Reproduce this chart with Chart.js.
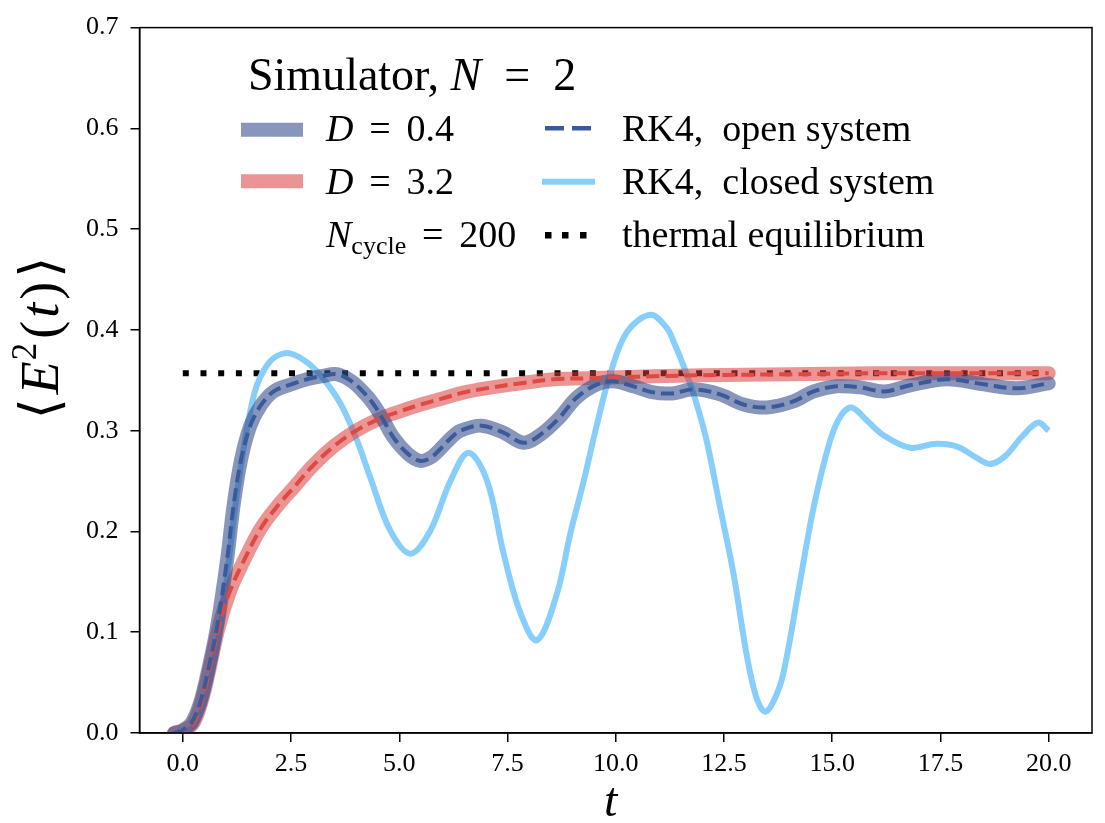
<!DOCTYPE html>
<html>
<head>
<meta charset="utf-8">
<script src="https://cdn.jsdelivr.net/npm/chart.js@4.4.1/dist/chart.umd.min.js"></script>
<style>
  html, body { margin: 0; padding: 0; background: #fff; }
  #c { display: block; }
</style>
</head>
<body>
<canvas id="c" width="1105" height="823"></canvas>
<script>
// ---------- data ----------
const xTicks = [0, 2.5, 5, 7.5, 10, 12.5, 15, 17.5, 20];

// D = 0.4 (simulator band and RK4 open system, dashed)
const tD04 = [-0.2, 0.0, 0.2, 0.4, 0.6, 0.79, 1.02, 1.18, 1.35, 1.56, 1.8, 2.1, 2.5, 2.87, 3.2, 3.56, 3.9, 4.2, 4.41, 4.64, 4.87, 5.2, 5.49, 5.75, 5.95, 6.2, 6.41, 6.9, 7.41, 7.87, 8.26, 8.7, 9.1, 9.57, 9.95, 10.41, 10.87, 11.3, 11.8, 12.41, 12.95, 13.49, 14.1, 14.57, 15.1, 15.64, 16.2, 16.8, 17.65, 18.5, 19.26, 20.0];
const vD04 = [0.0, 0.003, 0.01, 0.03, 0.065, 0.105, 0.171, 0.228, 0.272, 0.305, 0.325, 0.339, 0.346, 0.351, 0.354, 0.356, 0.349, 0.337, 0.326, 0.31, 0.293, 0.277, 0.27, 0.274, 0.282, 0.293, 0.300, 0.305, 0.298, 0.288, 0.296, 0.313, 0.333, 0.346, 0.349, 0.344, 0.338, 0.337, 0.341, 0.336, 0.326, 0.323, 0.329, 0.339, 0.344, 0.343, 0.339, 0.345, 0.351, 0.346, 0.342, 0.347];

// D = 3.2
const tD32 = [-0.2, 0.0, 0.25, 0.49, 0.83, 1.1, 1.41, 1.8, 2.2, 2.55, 3.0, 3.5, 4.0, 4.5, 5.0, 5.5, 6.0, 6.5, 7.0, 7.8, 8.57, 9.33, 10.1, 10.87, 12.0, 14.0, 16.0, 18.0, 20.0];
const vD32 = [0.0, 0.002, 0.01, 0.04, 0.105, 0.142, 0.171, 0.203, 0.226, 0.243, 0.265, 0.285, 0.300, 0.311, 0.319, 0.326, 0.332, 0.338, 0.342, 0.347, 0.351, 0.352, 0.353, 0.354, 0.355, 0.356, 0.357, 0.357, 0.357];

// RK4 closed system
const tClosed = [0.0, 0.3, 0.6, 0.9, 1.26, 1.64, 2.0, 2.4, 2.8, 3.18, 3.64, 4.0, 4.33, 4.79, 5.26, 5.72, 6.18, 6.6, 7.03, 7.41, 7.8, 8.18, 8.64, 8.95, 9.26, 9.57, 9.87, 10.26, 10.8, 11.18, 11.33, 11.64, 11.9, 12.1, 12.41, 12.72, 13.03, 13.25, 13.45, 13.65, 13.87, 14.26, 14.57, 14.95, 15.2, 15.45, 15.8, 16.2, 16.8, 17.4, 17.9, 18.3, 18.65, 19.0, 19.4, 19.75, 20.0];
const vClosed = [0.0, 0.008, 0.045, 0.115, 0.24, 0.335, 0.368, 0.377, 0.37, 0.355, 0.327, 0.293, 0.2535, 0.201, 0.178, 0.201, 0.25, 0.278, 0.25, 0.178, 0.119, 0.092, 0.138, 0.198, 0.25, 0.307, 0.356, 0.398, 0.415, 0.402, 0.389, 0.356, 0.322, 0.29, 0.224, 0.158, 0.076, 0.035, 0.021, 0.032, 0.059, 0.151, 0.224, 0.29, 0.315, 0.323, 0.31, 0.295, 0.283, 0.287, 0.284, 0.274, 0.267, 0.275, 0.295, 0.308, 0.30];

// thermal equilibrium
const tThermal = [0.0, 20.0];
const vThermal = [0.357, 0.357];

// ---------- helpers ----------
const pts = (ts, vs) => ts.map((t, i) => ({ x: t, y: vs[i] }));
const SERIF = '"Liberation Serif", "DejaVu Serif", serif';

const C_BLUE_BAND = 'rgba(55,80,140,0.6)';
const C_RED_BAND = 'rgba(220,60,60,0.55)';
const C_BLUE_DASH = '#3b5a9a';
const C_RED_DASH = '#dc4b42';
const C_CLOSED = '#87CEFA';

function drawRich(ctx, parts, x, y) {
  let cx = x;
  for (const p of parts) {
    ctx.font = (p.it ? 'italic ' : '') + p.size + 'px ' + SERIF;
    ctx.fillText(p.t, cx, y + (p.dy || 0));
    cx += ctx.measureText(p.t).width + (p.gap || 0);
  }
  return cx;
}
function richWidth(ctx, parts) {
  let w = 0;
  for (const p of parts) {
    ctx.font = (p.it ? 'italic ' : '') + p.size + 'px ' + SERIF;
    w += ctx.measureText(p.t).width + (p.gap || 0);
  }
  return w;
}

const decor = {
  id: 'decor',
  afterDraw(chart) {
    const ctx = chart.ctx;
    const a = chart.chartArea;
    ctx.save();
    // frame (top & right)
    ctx.strokeStyle = '#000';
    ctx.lineWidth = 1.5;
    ctx.strokeRect(a.left, a.top, a.right - a.left, a.bottom - a.top);

    ctx.fillStyle = '#000';
    ctx.textBaseline = 'alphabetic';
    const ES = '\u2002';
    const EQ = ' \u2006=\u2006 ';

    // x axis title
    drawRich(ctx, [{ t: 't', it: true, size: 48 }], 604, 816);

    // y axis title (rotated)
    ctx.save();
    ctx.translate(58, 338);
    ctx.rotate(-Math.PI / 2);
    const yParts = [
      { t: '\u27E8', size: 54, gap: 4 },
      { t: 'E', it: true, size: 54, gap: 1 },
      { t: '2', size: 35, dy: -22, gap: 4 },
      { t: '(', size: 54, gap: 3 },
      { t: 't', it: true, size: 54, gap: 3 },
      { t: ')', size: 54, gap: 4 },
      { t: '\u27E9', size: 54 }
    ];
    const w = richWidth(ctx, yParts);
    drawRich(ctx, yParts, -w / 2, 0);
    ctx.restore();

    // legend title
    drawRich(ctx, [
      { t: 'Simulator, ', size: 46 },
      { t: 'N', it: true, size: 46 },
      { t: ES + '=' + ES + '2', size: 46 }
    ], 248, 90);

    // legend column 1 swatches
    ctx.lineCap = 'butt';
    ctx.setLineDash([]);
    ctx.lineWidth = 14;
    ctx.strokeStyle = C_BLUE_BAND;
    ctx.beginPath(); ctx.moveTo(241, 129.7); ctx.lineTo(303, 129.7); ctx.stroke();
    ctx.strokeStyle = C_RED_BAND;
    ctx.beginPath(); ctx.moveTo(241, 181.3); ctx.lineTo(303, 181.3); ctx.stroke();

    // legend column 1 texts
    ctx.fillStyle = '#000';
    drawRich(ctx, [{ t: 'D', it: true, size: 38 }, { t: EQ + '0.4', size: 38 }], 326, 141);
    drawRich(ctx, [{ t: 'D', it: true, size: 38 }, { t: EQ + '3.2', size: 38 }], 326, 194);
    drawRich(ctx, [
      { t: 'N', it: true, size: 38 },
      { t: 'cycle', size: 26, dy: 7 },
      { t: EQ + '200', size: 38 }
    ], 326, 247);

    // legend column 2 swatches
    ctx.lineWidth = 4.5;
    ctx.strokeStyle = C_BLUE_DASH;
    ctx.setLineDash([19, 8]);
    ctx.beginPath(); ctx.moveTo(545, 128.3); ctx.lineTo(592, 128.3); ctx.stroke();
    ctx.setLineDash([]);
    ctx.lineWidth = 6;
    ctx.strokeStyle = C_CLOSED;
    ctx.beginPath(); ctx.moveTo(542, 181.7); ctx.lineTo(595, 181.7); ctx.stroke();
    ctx.fillStyle = '#000';
    for (const dx of [545, 562, 580]) ctx.fillRect(dx, 232, 6.5, 6.5);

    // legend column 2 texts
    drawRich(ctx, [{ t: 'RK4,' + ES + 'open system', size: 38 }], 622, 141);
    drawRich(ctx, [{ t: 'RK4,' + ES + 'closed system', size: 38 }], 622, 194);
    drawRich(ctx, [{ t: 'thermal equilibrium', size: 38 }], 622, 247);

    ctx.restore();
  }
};

const lineBase = { pointRadius: 0, fill: false, tension: 0.35, borderJoinStyle: 'round' };

new Chart(document.getElementById('c'), {
  type: 'line',
  data: {
    datasets: [
      Object.assign({}, lineBase, { label: 'RK4, open system (D=0.4)', data: pts(tD04, vD04), borderColor: C_BLUE_DASH, borderWidth: 4, borderDash: [13, 6] }),
      Object.assign({}, lineBase, { label: 'RK4, open system (D=3.2)', data: pts(tD32, vD32), borderColor: C_RED_DASH, borderWidth: 4, borderDash: [13, 6] }),
      Object.assign({}, lineBase, { label: 'D = 0.4', data: pts(tD04, vD04), borderColor: C_BLUE_BAND, borderWidth: 14, borderCapStyle: 'round' }),
      Object.assign({}, lineBase, { label: 'D = 3.2', data: pts(tD32, vD32), borderColor: C_RED_BAND, borderWidth: 14, borderCapStyle: 'round' }),
      Object.assign({}, lineBase, { label: 'RK4, closed system', data: pts(tClosed, vClosed), borderColor: C_CLOSED, borderWidth: 6 }),
      Object.assign({}, lineBase, { label: 'thermal equilibrium', data: pts(tThermal, vThermal), borderColor: '#000', borderWidth: 6, borderDash: [6, 11.7], borderCapStyle: 'butt', tension: 0 })
    ]
  },
  options: {
    responsive: false,
    animation: false,
    devicePixelRatio: 1,
    layout: { padding: { top: 25, right: 13, left: 0, bottom: 0 } },
    plugins: { legend: { display: false }, tooltip: { enabled: false } },
    scales: {
      x: {
        type: 'linear',
        min: -1,
        max: 21,
        afterBuildTicks: (s) => { s.ticks = xTicks.map(v => ({ value: v })); },
        afterFit: (s) => { s.height = 90; },
        ticks: {
          color: '#000',
          font: { family: SERIF, size: 26 },
          padding: 7,
          maxRotation: 0,
          autoSkip: false,
          callback: (v) => Number(v).toFixed(1)
        },
        grid: { drawOnChartArea: false, drawTicks: true, tickLength: 9, tickColor: '#000', tickWidth: 1.5, color: '#000', lineWidth: 1.5 },
        border: { display: true, color: '#000', width: 1.5 }
      },
      y: {
        min: 0,
        max: 0.7,
        afterFit: (s) => { s.width = 139.5; },
        ticks: {
          stepSize: 0.1,
          color: '#000',
          font: { family: SERIF, size: 26 },
          padding: 12,
          callback: (v) => Number(v).toFixed(1)
        },
        grid: { drawOnChartArea: false, drawTicks: true, tickLength: 9, tickColor: '#000', tickWidth: 1.5, color: '#000', lineWidth: 1.5 },
        border: { display: true, color: '#000', width: 1.5 }
      }
    }
  },
  plugins: [decor]
});
</script>
</body>
</html>
